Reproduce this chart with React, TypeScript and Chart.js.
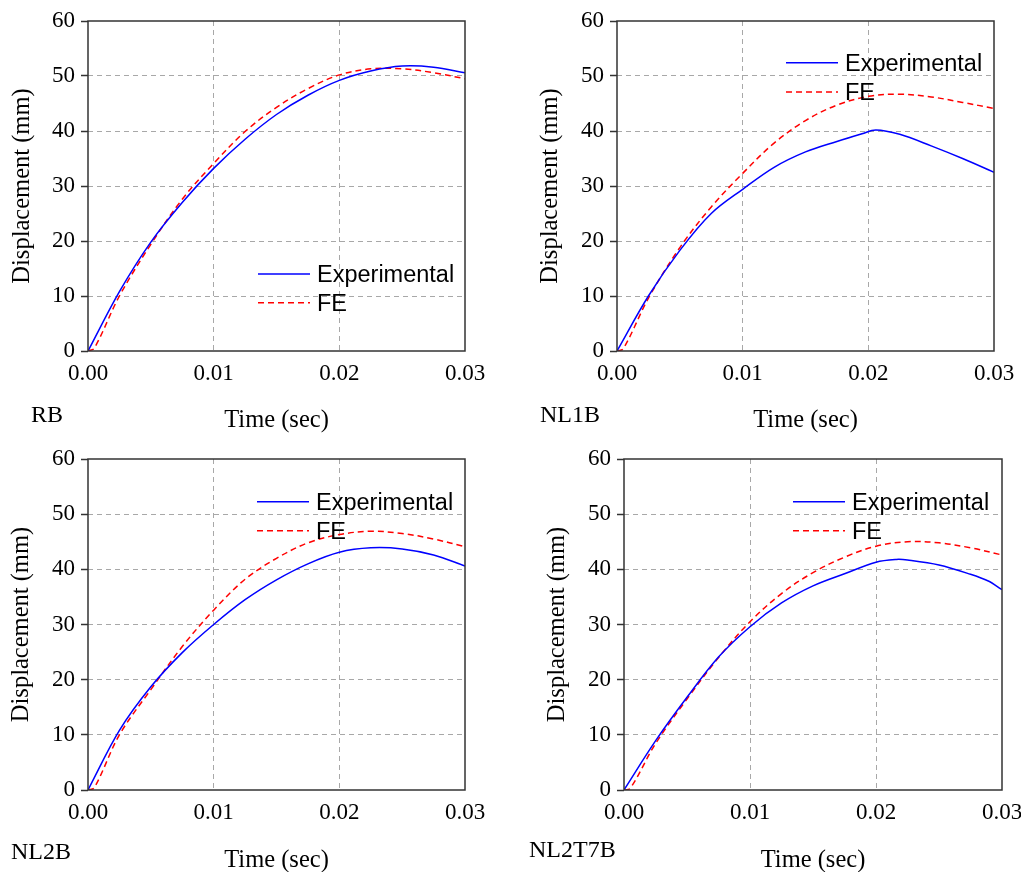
import React, { useEffect, useRef } from 'react';
import { Chart, registerables } from 'chart.js';

Chart.register(...registerables);

// ---------- data ----------
const xTicks = [0, 0.01, 0.02, 0.03];
const xTickLabels = ['0.00', '0.01', '0.02', '0.03'];
const yTicks = [0, 10, 20, 30, 40, 50, 60];
const yTickLabels = ['0', '10', '20', '30', '40', '50', '60'];
const seriesNames = ['Experimental', 'FE'];
const panelNames = ['RB', 'NL1B', 'NL2B', 'NL2T7B'];
const xTitle = 'Time (sec)';
const yTitle = 'Displacement (mm)';

const gridTime = [0, 0.0025, 0.005, 0.0075, 0.01, 0.0125, 0.015, 0.0175, 0.02, 0.0225, 0.025, 0.0275, 0.03];
const feTime = [0, 0.0005, 0.0025, 0.005, 0.0075, 0.01, 0.0125, 0.015, 0.0175, 0.02, 0.0225, 0.025, 0.0275, 0.03];

// RB
const rbExpTime = gridTime;
const rbExp = [0, 10.8, 19.8, 27.0, 33.2, 38.5, 43.0, 46.5, 49.2, 50.9, 51.8, 51.6, 50.6];
const rbFeTime = feTime;
const rbFe = [0, 0.5, 10.0, 19.4, 27.6, 34.1, 39.9, 44.3, 47.7, 50.2, 51.3, 51.3, 50.6, 49.5];

// NL1B
const nl1bExpTime = [0, 0.0025, 0.005, 0.0075, 0.01, 0.0125, 0.015, 0.0175, 0.0195, 0.0206, 0.0225, 0.025, 0.0275, 0.03];
const nl1bExp = [0, 10.0, 18.3, 25.0, 29.4, 33.4, 36.2, 38.1, 39.5, 40.2, 39.4, 37.3, 35.0, 32.5];
const nl1bFeTime = feTime;
const nl1bFe = [0, 0.4, 9.6, 18.8, 26.2, 32.3, 37.8, 41.9, 44.7, 46.3, 46.7, 46.2, 45.2, 44.1];

// NL2B
const nl2bExpTime = gridTime;
const nl2bExp = [0, 10.8, 18.7, 24.9, 30.0, 34.5, 38.1, 41.0, 43.1, 43.9, 43.7, 42.6, 40.6];
const nl2bFeTime = feTime;
const nl2bFe = [0, 0.4, 10.0, 18.2, 26.0, 32.6, 38.2, 42.0, 44.8, 46.3, 46.9, 46.5, 45.5, 44.1];

// NL2T7B
const nl2t7bExpTime = [0, 0.0025, 0.005, 0.0075, 0.01, 0.0125, 0.015, 0.0175, 0.02, 0.0216, 0.0225, 0.025, 0.0275, 0.029, 0.0296, 0.03];
const nl2t7bExp = [0, 8.9, 16.8, 24.1, 29.6, 33.9, 37.0, 39.2, 41.3, 41.8, 41.7, 40.8, 39.1, 37.8, 36.9, 36.3];
const nl2t7bFeTime = feTime;
const nl2t7bFe = [0, 0.3, 8.4, 16.5, 24.0, 30.5, 35.6, 39.4, 42.2, 44.2, 45.0, 44.8, 43.9, 42.6];

const panelSeries = [
  [[rbExpTime, rbExp], [rbFeTime, rbFe]],
  [[nl1bExpTime, nl1bExp], [nl1bFeTime, nl1bFe]],
  [[nl2bExpTime, nl2bExp], [nl2bFeTime, nl2bFe]],
  [[nl2t7bExpTime, nl2t7bExp], [nl2t7bFeTime, nl2t7bFe]],
];

// ---------- layout (page pixel coordinates) ----------
const LAYOUT = [
  { cx: 0, cy: 0, cw: 505, ch: 437, l: 88, r: 465, t: 21, b: 351, yTitleX: 22.5, xTitleY: 421,
    legX1: 258, legX2: 310, legTx: 317, legY1: 274, legY2: 302.7, labX: 31, labY: 422 },
  { cx: 505, cy: 0, cw: 516, ch: 437, l: 617, r: 994, t: 21, b: 351, yTitleX: 551, xTitleY: 421,
    legX1: 786, legX2: 838, legTx: 845, legY1: 62.7, legY2: 92, labX: 540, labY: 422 },
  { cx: 0, cy: 437, cw: 505, ch: 435, l: 88, r: 465, t: 459, b: 790, yTitleX: 22, xTitleY: 861,
    legX1: 257, legX2: 309, legTx: 316, legY1: 501.7, legY2: 530.7, labX: 11, labY: 859 },
  { cx: 505, cy: 437, cw: 516, ch: 435, l: 624, r: 1002, t: 459, b: 790, yTitleX: 558, xTitleY: 861,
    legX1: 793, legX2: 845, legTx: 852, legY1: 501.7, legY2: 530.7, labX: 529, labY: 857 },
];

const SERIF = '"Liberation Serif", "Times New Roman", serif';
const SANS = '"Liberation Sans", Arial, sans-serif';
const TITLE_SIZE = 24.5;
const TITLE_LH = 1.2;
const COLORS = ['#0000ff', '#ff0000'];
const DASHES = [[], [6, 4]];
const GRID_COLOR = '#a8a8a8';
const FRAME_COLOR = '#333333';

function Panel({ index }: { index: number }) {
  const ref = useRef<HTMLCanvasElement | null>(null);
  const L = LAYOUT[index];

  useEffect(() => {
    if (!ref.current) return;
    const half = (TITLE_SIZE * TITLE_LH) / 2;
    const padLeft = L.yTitleX - L.cx - half;
    const yWidth = L.l - L.cx - padLeft;
    const padRight = L.cx + L.cw - L.r;
    const padTop = L.t - L.cy;
    const padBottom = L.cy + L.ch - (L.xTitleY + half);
    const xHeight = L.cy + L.ch - padBottom - L.b;

    const overlay = {
      id: 'overlay',
      afterDraw(chart: any) {
        const ctx = chart.ctx;
        const ca = chart.chartArea;
        ctx.save();
        ctx.strokeStyle = FRAME_COLOR;
        ctx.lineWidth = 1.5;
        ctx.setLineDash([]);
        ctx.strokeRect(ca.left, ca.top, ca.right - ca.left, ca.bottom - ca.top);
        const ys = [L.legY1, L.legY2];
        ctx.font = `23.5px ${SANS}`;
        ctx.textBaseline = 'alphabetic';
        ctx.textAlign = 'left';
        for (let i = 0; i < 2; i++) {
          const y = ys[i] - L.cy;
          ctx.beginPath();
          ctx.strokeStyle = COLORS[i];
          ctx.lineWidth = 1.5;
          ctx.setLineDash(DASHES[i]);
          ctx.moveTo(L.legX1 - L.cx, y);
          ctx.lineTo(L.legX2 - L.cx, y);
          ctx.stroke();
          ctx.setLineDash([]);
          ctx.fillStyle = '#000';
          ctx.fillText(seriesNames[i], L.legTx - L.cx, y + 8.3);
        }
        ctx.font = `24px ${SERIF}`;
        ctx.fillStyle = '#000';
        ctx.fillText(panelNames[index], L.labX - L.cx, L.labY - L.cy);
        ctx.restore();
      },
    };

    const datasets = panelSeries[index].map(([t, v], i) => ({
      label: seriesNames[i],
      data: t.map((x: number, k: number) => ({ x, y: v[k] })),
      borderColor: COLORS[i],
      backgroundColor: COLORS[i],
      borderWidth: 1.5,
      borderDash: DASHES[i],
      pointRadius: 0,
      fill: false,
      tension: 0.35,
    }));

    const chart = new Chart(ref.current, {
      type: 'line',
      data: { datasets },
      options: {
        animation: false,
        responsive: false,
        maintainAspectRatio: false,
        layout: { padding: { left: padLeft, right: padRight, top: padTop, bottom: padBottom } },
        plugins: { legend: { display: false }, tooltip: { enabled: false } },
        scales: {
          x: {
            type: 'linear',
            min: 0,
            max: 0.03,
            afterBuildTicks: (s: any) => { s.ticks = xTicks.map((v) => ({ value: v })); },
            afterFit: (s: any) => { s.height = xHeight; s.paddingLeft = 0; s.paddingRight = 0; },
            ticks: {
              autoSkip: false,
              maxRotation: 0,
              padding: 9,
              color: '#000',
              font: { family: SERIF, size: 23 },
              callback: (_v: any, i: number) => xTickLabels[i],
            },
            grid: {
              drawTicks: false,
              lineWidth: 1,
              color: (c: any) => (c.index === 0 || c.index === xTicks.length - 1 ? 'rgba(0,0,0,0)' : GRID_COLOR),
            },
            border: { display: false, dash: [5, 4] },
            title: {
              display: true,
              text: xTitle,
              color: '#000',
              padding: 0,
              font: { family: SERIF, size: TITLE_SIZE, lineHeight: TITLE_LH },
            },
          },
          y: {
            type: 'linear',
            min: 0,
            max: 60,
            afterBuildTicks: (s: any) => { s.ticks = yTicks.map((v) => ({ value: v })); },
            afterFit: (s: any) => { s.width = yWidth; s.paddingTop = 0; s.paddingBottom = 0; },
            ticks: {
              padding: 6,
              color: '#000',
              font: { family: SERIF, size: 23 },
              callback: (_v: any, i: number) => yTickLabels[i],
            },
            grid: {
              drawTicks: true,
              tickLength: 7,
              tickColor: FRAME_COLOR,
              tickWidth: 1.5,
              lineWidth: 1,
              color: (c: any) => (c.index === 0 || c.index === yTicks.length - 1 ? 'rgba(0,0,0,0)' : GRID_COLOR),
            },
            border: { display: false, dash: [5, 4] },
            title: {
              display: true,
              text: yTitle,
              color: '#000',
              padding: 0,
              font: { family: SERIF, size: TITLE_SIZE, lineHeight: TITLE_LH },
            },
          },
        },
      },
      plugins: [overlay],
    } as any);
    return () => chart.destroy();
  }, [index]);

  return (
    <canvas
      ref={ref}
      width={L.cw}
      height={L.ch}
      style={{ position: 'absolute', left: L.cx, top: L.cy, width: L.cw, height: L.ch }}
    />
  );
}

export default function App() {
  return (
    <div
      style={{
        position: 'absolute',
        left: 0,
        top: 0,
        width: 1021,
        height: 872,
        overflow: 'hidden',
        background: '#fff',
      }}
    >
      {LAYOUT.map((_, i) => (
        <Panel key={i} index={i} />
      ))}
    </div>
  );
}
